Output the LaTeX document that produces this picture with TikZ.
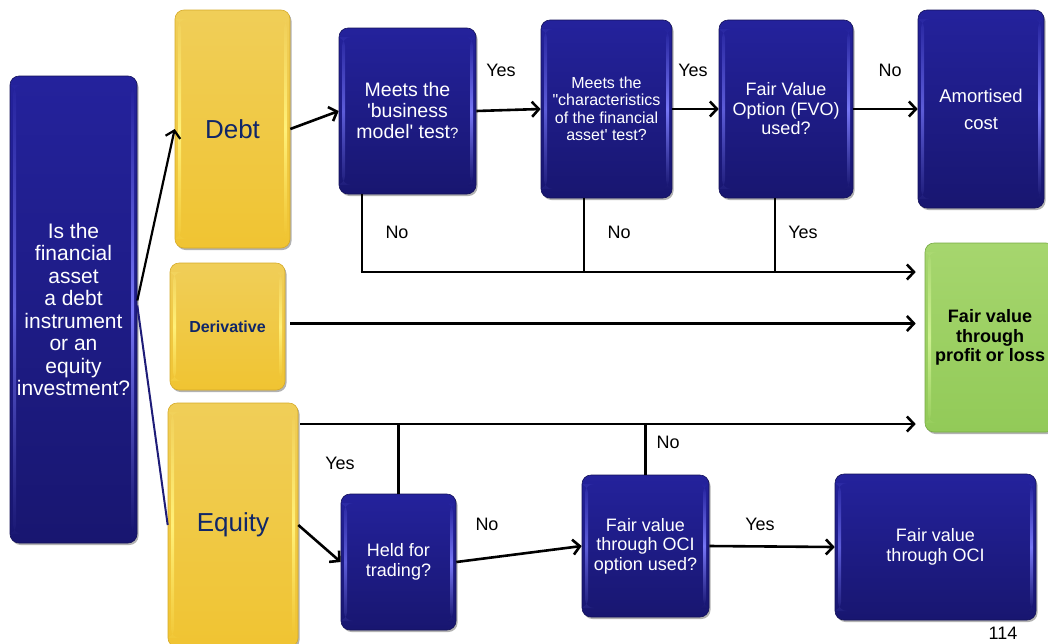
\documentclass[tikz,border=0pt]{standalone}
\usepackage{fontspec}
\setmainfont{Liberation Sans}
\usetikzlibrary{arrows.meta,shadows}

\definecolor{bluetop}{RGB}{36,34,156}
\definecolor{bluebot}{RGB}{24,22,112}
\definecolor{blueedge}{RGB}{20,18,90}
\definecolor{bluestripeL}{RGB}{92,92,215}
\definecolor{bluestripeR}{RGB}{118,118,245}
\definecolor{yeltop}{RGB}{240,206,88}
\definecolor{yelbot}{RGB}{240,196,50}
\definecolor{yeledge}{RGB}{214,170,40}
\definecolor{yelstripe}{RGB}{255,240,120}
\definecolor{grntop}{RGB}{166,214,110}
\definecolor{grnbot}{RGB}{146,202,88}
\definecolor{grnedge}{RGB}{120,170,70}
\definecolor{grnstripe}{RGB}{205,240,145}
\definecolor{navytext}{RGB}{16,38,104}
\definecolor{splitline}{RGB}{30,28,120}

\tikzset{
  % light bevel stripes along the inner left and right edges
  stripes/.style n args={4}{path picture={
    \shade[top color=#1, bottom color=#2, middle color=#3]
      ([xshift=3pt,yshift=-9pt]path picture bounding box.north west)
      rectangle ([xshift=6pt,yshift=9pt]path picture bounding box.south west);
    \shade[top color=#1, bottom color=#2, middle color=#4]
      ([xshift=-6pt,yshift=-9pt]path picture bounding box.north east)
      rectangle ([xshift=-3pt,yshift=9pt]path picture bounding box.south east);
  }},
  box/.style={rounded corners=9pt, align=center, inner sep=2pt, line width=0.6pt,
    drop shadow={shadow xshift=1.5pt, shadow yshift=-2pt, opacity=0.3, fill=black}},
  bluebox/.style={box, top color=bluetop, bottom color=bluebot, draw=blueedge,
    text=white, stripes={bluetop}{bluebot}{bluestripeL}{bluestripeR}},
  yelbox/.style={box, top color=yeltop, bottom color=yelbot, draw=yeledge,
    text=navytext, stripes={yeltop}{yelbot}{yelstripe}{yelstripe}},
  grnbox/.style={box, top color=grntop, bottom color=grnbot, draw=grnedge,
    text=black, stripes={grntop}{grnbot}{grnstripe}{grnstripe}},
  arr/.style={line width=2.6pt, -{Straight Barb[length=7pt,width=15pt]}},
  plain/.style={line width=2.6pt},
  lbl/.style={font=\fontsize{18}{20}\selectfont, inner sep=0pt},
}

\begin{document}
\begin{tikzpicture}[x=1pt, y=-1pt]
  \path[use as bounding box, fill=white] (0,0) rectangle (1048,643);
  \clip (0,0) rectangle (1048,643);

  % main question
  \node[bluebox, minimum width=127pt, minimum height=467pt,
        font=\fontsize{21}{22.5}\selectfont] (q) at (73.5,309.5)
    {Is the\\financial\\asset\\a debt\\instrument\\or an\\equity\\investment?};

  % categories
  \node[yelbox, minimum width=115pt, minimum height=238pt,
        font=\fontsize{26}{28}\selectfont] (debt) at (232.5,129) {Debt};
  \node[yelbox, minimum width=115pt, minimum height=127pt,
        font=\fontsize{16}{18}\selectfont\bfseries] (deriv) at (227.5,326.5) {Derivative};
  \node[yelbox, minimum width=130pt, minimum height=244pt,
        font=\fontsize{26}{28}\selectfont] (equity) at (233,525) {Equity};

  % debt tests
  \node[bluebox, minimum width=137pt, minimum height=166pt,
        font=\fontsize{19.5}{21}\selectfont] (bm) at (407.5,111)
    {Meets the\\\textquotesingle business\\model\textquotesingle{} test{\fontsize{15}{15}\selectfont ?}};
  \node[bluebox, minimum width=131pt, minimum height=178pt,
        font=\fontsize{16}{17.5}\selectfont] (ch) at (606.5,109)
    {Meets the\\\textquotedbl characteristics\\of the financial\\asset\textquotesingle{} test?};
  \node[bluebox, minimum width=134pt, minimum height=178pt,
        font=\fontsize{18}{19.5}\selectfont] (fvo) at (786,109)
    {Fair Value\\Option (FVO)\\used?};
  \node[bluebox, minimum width=126pt, minimum height=198pt,
        font=\fontsize{18.5}{27}\selectfont] (am) at (981,109)
    {Amortised\\cost};

  % outcome: fair value through profit or loss
  \node[grnbox, minimum width=130pt, minimum height=189pt,
        font=\fontsize{18}{19.5}\selectfont\bfseries] (fvpl) at (990,337.5)
    {Fair value\\through\\profit or loss};

  % equity tests
  \node[bluebox, minimum width=115pt, minimum height=136pt,
        font=\fontsize{18}{20}\selectfont] (hft) at (398.5,562)
    {Held for\\trading?};
  \node[bluebox, minimum width=127pt, minimum height=142pt,
        font=\fontsize{18}{19.5}\selectfont] (ocio) at (645.5,546)
    {Fair value\\through OCI\\option used?};
  \node[bluebox, minimum width=201pt, minimum height=146pt,
        font=\fontsize{18}{19.5}\selectfont] (fvoci) at (935.5,547)
    {Fair value\\through OCI};

  % junction points
  \coordinate (j1) at (362,272);
  \coordinate (j2) at (584,272);
  \coordinate (j3) at (775,272);
  \coordinate (e1) at (300,424);

  % question to categories
  \draw[arr, line width=2.2pt] ([yshift=9pt]q.east) -- (debt.west);
  \draw[splitline, line width=2pt] ([yshift=4pt]q.east) -- (equity.west);

  % debt path
  \draw[arr] (debt.east) -- (bm.west);
  \draw[arr] (bm.east) -- (ch.west);
  \draw[arr] (ch.east) -- (fvo.west);
  \draw[arr] (fvo.east) -- (am.west);
  \draw[plain] (j1 |- bm.south) -- (j1);
  \draw[plain] (j2 |- ch.south) -- (j2);
  \draw[plain] (j3 |- fvo.south) -- (j3);
  \draw[arr, shorten >=9pt] ([xshift=-1.3pt]j1) -- (j1 -| fvpl.west);

  % derivative path
  \draw[arr, shorten <=5pt, shorten >=9pt] ([yshift=3pt]deriv.east) -- ([yshift=3pt]deriv.east -| fvpl.west);

  % equity path
  \draw[arr, shorten >=9pt] (e1) -- (e1 -| fvpl.west);
  \draw[plain] (hft.north) -- (hft.north |- e1);
  \draw[plain] (ocio.north) -- (ocio.north |- e1);
  \draw[arr] (equity.east) -- (hft.west);
  \draw[arr] (hft.east) -- (ocio.west);
  \draw[arr] (ocio.east) -- (fvoci.west);

  % branch labels
  \node[lbl] (l1) at (501,70) {Yes};
  \node[lbl] (l2) at (693,70) {Yes};
  \node[lbl] (l3) at (890,70) {No};
  \node[lbl] (l4) at (397,232) {No};
  \node[lbl] (l5) at (619,232) {No};
  \node[lbl] (l6) at (803,232) {Yes};
  \node[lbl] (l7) at (340,463) {Yes};
  \node[lbl] (l8) at (487,524) {No};
  \node[lbl] (l9) at (668,442) {No};
  \node[lbl] (l10) at (760,524) {Yes};

  % page number
  \node[anchor=base, font=\fontsize{18}{20}\selectfont, inner sep=0pt] (pg) at (1003,639) {114};
\end{tikzpicture}
\end{document}
